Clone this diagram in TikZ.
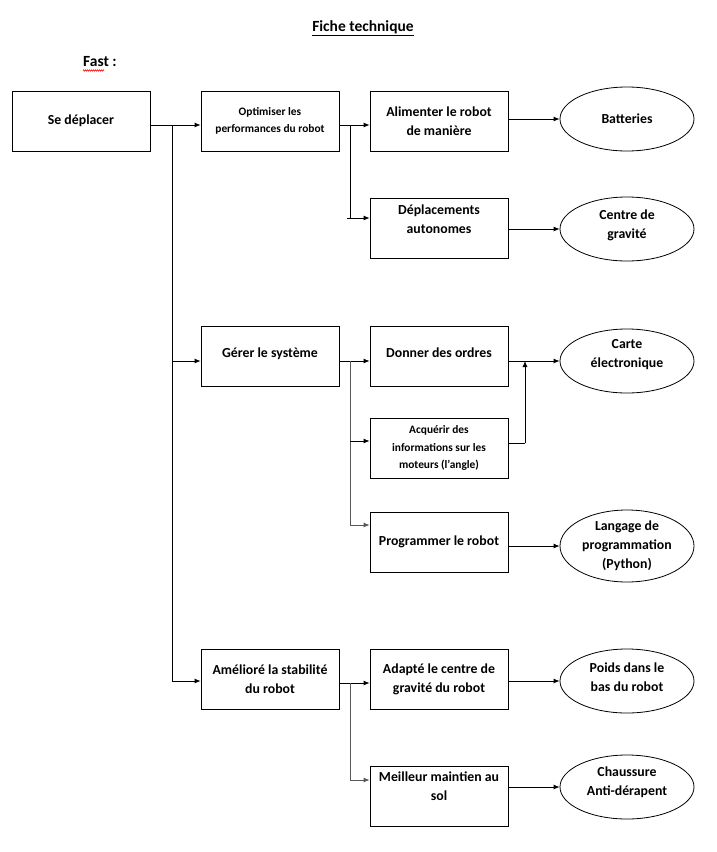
\documentclass[tikz,border=0pt]{standalone}
\usepackage{fontspec}
\setmainfont{Carlito}
\usetikzlibrary{arrows.meta,shapes.geometric,decorations.pathmorphing}
\begin{document}
\begin{tikzpicture}[x=1pt,y=-1pt,
  box/.style={draw, line width=0.8pt, minimum width=138pt, minimum height=60pt, align=center, inner sep=2pt,
    font=\bfseries\fontsize{13.8}{19}\selectfont},
  smallbox/.style={box, font=\bfseries\fontsize{11.4}{17.5}\selectfont},
  oval/.style={draw, ellipse, line width=0.8pt, minimum width=134pt, minimum height=64pt, align=center, inner sep=0pt,
    font=\bfseries\fontsize{13.8}{19}\selectfont},
  lift/.style={text depth=#1},
  arr/.style={line width=0.8pt, -{Latex[length=6pt,width=5pt]}},
  ln/.style={line width=0.8pt},
  grayln/.style={line width=0.9pt, draw=black!65}
]
\useasboundingbox (0,0) rectangle (716,852);

% titles
\node (title) at (363,28) {\bfseries\fontsize{15.5}{17}\selectfont\underline{Fiche technique}};
\node (fast) at (100,62) {\bfseries\fontsize{15.5}{17}\selectfont Fast :};
\coordinate (sq1) at (83,70.5);
\coordinate (sq2) at (104,70.5);
\draw[red, line width=0.5pt, decorate, decoration={zigzag, segment length=2pt, amplitude=0.7pt}] (sq1) -- (sq2);

% column 1
\node[box] (sd) at (81,121) {Se déplacer};

% column 2
\node[smallbox] (opt) at (270,121) {Optimiser les\\performances du robot};
\node[box, lift=8pt] (ger) at (270,356.5) {Gérer le système};
\node[box] (ame) at (270,679.5) {Amélioré la stabilité\\du robot};

% column 3
\node[box] (ali) at (439,121) {Alimenter le robot\\de manière};
\node[box, lift=18pt] (dep) at (439,228) {Déplacements\\autonomes};
\node[box, lift=8pt] (don) at (439,356.5) {Donner des ordres};
\node[smallbox] (acq) at (439,448) {Acquérir des\\informations sur les\\moteurs (l’angle)};
\node[box] (pro) at (439,542) {Programmer le robot};
\node[box] (ada) at (439,679.5) {Adapté le centre de\\gravité du robot};
\node[box, lift=20pt] (mei) at (439,796) {Meilleur maintien au\\sol};

% ellipses
\node[oval] (bat) at (627,119) {Batteries};
\node[oval, lift=10pt] (cdg) at (627,229) {Centre de\\gravité};
\node[oval, lift=16pt] (car) at (627,361) {Carte\\électronique};
\node[oval, minimum height=72pt] (lan) at (627,546) {Langage de\\programmation\\(Python)};
\node[oval, lift=7pt] (poi) at (627,681) {Poids dans le\\bas du robot};
\node[oval, lift=11pt] (cha) at (627,787) {Chaussure\\Anti-dérapent};

% trunk from Se déplacer
\coordinate (t0) at (172,125);
\coordinate (t1) at (172,361);
\coordinate (t2) at (172,681);
\draw[arr] (sd.east |- t0) -- (opt.west |- t0);
\draw[ln] (t0) -- (t2);
\draw[arr] (t1) -- (ger.west |- t1);
\draw[arr] (t2) -- (ame.west |- t2);

% Optimiser branch
\coordinate (o0) at (350,125);
\coordinate (o1) at (350,218);
\coordinate (o1a) at (347,218);
\draw[arr] (opt.east |- o0) -- (ali.west |- o0);
\draw[ln] (o0) -- (o1);
\draw[arr] (o1a) -- (dep.west |- o1);

% Gérer branch
\coordinate (g0) at (350,361);
\coordinate (g1) at (350,441);
\coordinate (g2) at (350,525);
\draw[arr] (ger.east |- g0) -- (don.west |- g0);
\draw[grayln] (g0) -- (g2);
\draw[arr] (g1) -- (acq.west |- g1);
\draw[arr, draw=black!65] (g2) -- (pro.west |- g2);

% Carte
\coordinate (c0) at (525,361);
\coordinate (c1) at (525,443);
\draw[arr] (don.east |- c0) -- (car.west);
\draw[ln] (acq.east |- c1) -- (c1);
\draw[arr] (c1) -- (c0);

% other ellipses
\draw[arr] (ali.east |- bat) -- (bat.west);
\draw[arr] (dep.east |- cdg) -- (cdg.west);
\draw[arr] (pro.east |- lan) -- (lan.west);

% Amélioré branch
\coordinate (a0) at (350,683);
\coordinate (a1) at (350,780);
\draw[arr] (ame.east |- a0) -- (ada.west |- a0);
\draw[grayln] (a0) -- (a1);
\draw[arr, draw=black!65] (a1) -- (mei.west |- a1);
\draw[arr] (ada.east |- poi) -- (poi.west);
\draw[arr] (mei.east |- cha) -- (cha.west);
\end{tikzpicture}
\end{document}
